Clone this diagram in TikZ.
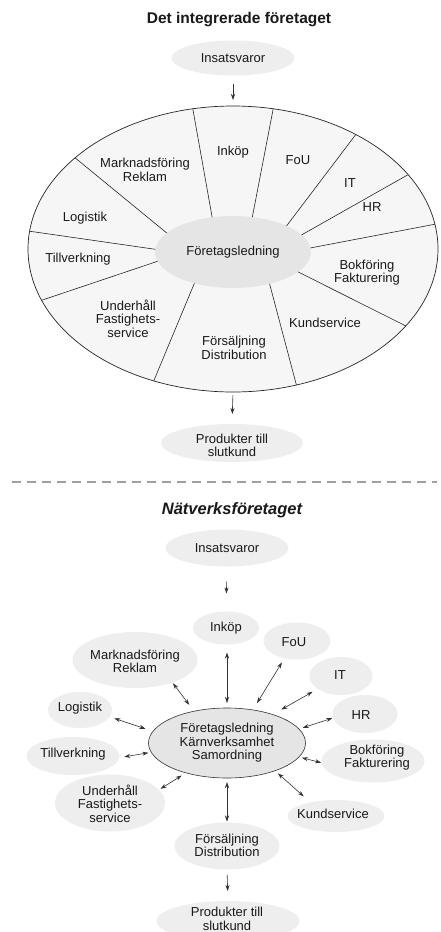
\documentclass[tikz,border=0pt]{standalone}
\usepackage{fontspec}
\setmainfont{Liberation Sans}
\usetikzlibrary{shapes.geometric,arrows.meta}
\begin{document}
\begin{tikzpicture}[x=1pt,y=-1pt,
  every node/.style={font=\fontsize{13}{13.5}\selectfont, align=center, inner sep=0pt, outer sep=0pt, text=black!90},
  blob/.style={ellipse, fill=gray!13},
  arr/.style={-{Stealth[length=6pt,width=4pt]}, line width=0.6pt, draw=black!80},
  darr/.style={{Stealth[length=6pt,width=4pt]}-{Stealth[length=6pt,width=4pt]}, line width=0.6pt, draw=black!80},
  spoke/.style={line width=0.6pt, draw=black!85},
  ttl/.style={font=\fontsize{15.5}{16}\selectfont\bfseries}
]
\useasboundingbox (0,0) rectangle (440,932);
\fill[white] (0,0) rectangle (440,932);

% ---------------- Top: Det integrerade företaget ----------------
\node[ttl] (title1) at (239,20) {Det integrerade företaget};

\node[blob, minimum width=123pt, minimum height=35pt] (ins1) at (233,58) {};
\node (ins1t) at (ins1) {Insatsvaror};

\node[ellipse, draw=black!85, line width=0.7pt, fill=gray!7, minimum width=410pt, minimum height=286pt] (big) at (233,249) {};
\node[ellipse, fill=gray!20, minimum width=156pt, minimum height=72pt] (inner) at (233,252) {};
\node (innert) at (inner) {Företagsledning};

\draw[spoke] (inner.121) -- (big.106);
\draw[spoke] (inner.61.6) -- (big.74.5);
\draw[spoke] (inner.26) -- (big.43.6);
\draw[spoke] (inner.14.8) -- (big.23.9);
\draw[spoke] (inner.3.6) -- (big.7.3);
\draw[spoke] (inner.-17.9) -- (big.-24.6);
\draw[spoke] (inner.-41.7) -- (big.-65.8);
\draw[spoke] (inner.219.5) -- (big.239.8);
\draw[spoke] (inner.187.5) -- (big.195.6);
\draw[spoke] (inner.178.5) -- (big.175.2);
\draw[spoke] (inner.164.4) -- (big.150.6);

\node (s1) at (233,152) {Inköp};
\node (s2) at (298,160) {FoU};
\node (s3) at (350,183) {IT};
\node (s4) at (372,207) {HR};
\node (s5) at (367,272.5) {Bokföring\\Fakturering};
\node (s6) at (325,323) {Kundservice};
\node (s7) at (234,348) {Försäljning\\Distribution};
\node (s8) at (128,318.5) {Underhåll\\Fastighets-\\service};
\node (s9) at (78,259) {Tillverkning};
\node (s10) at (85,218) {Logistik};
\node (s11) at (145,170) {Marknadsföring\\Reklam};

\node[blob, minimum width=142pt, minimum height=38pt] (prod1) at (232,443) {};
\node (prod1t) at (232,445.5) {Produkter till\\slutkund};

\draw[arr, shorten <=8pt, shorten >=6pt] (ins1.south) -- (big.north);
\draw[arr, shorten <=3pt, shorten >=10pt] (big.south) -- (prod1.north);

% ---------------- separator ----------------
\draw[gray!75, line width=1.1pt, dash pattern=on 8.5pt off 6.5pt] (12,482) -- (437,482);

% ---------------- Bottom: Nätverksföretaget ----------------
\node[font=\fontsize{16.5}{17}\selectfont\bfseries\itshape] (title2) at (232,510) {Nätverksföretaget};

\node[blob, minimum width=123pt, minimum height=37pt] (ins2) at (227,548) {};
\node (ins2t) at (ins2) {Insatsvaror};

\node[ellipse, draw=black!80, line width=0.6pt, fill=gray!20, minimum width=157pt, minimum height=70pt] (core) at (227,743) {};
\node (coret) at (227,743) {Företagsledning\\Kärnverksamhet\\Samordning};

\node[blob, minimum width=66pt, minimum height=33pt] (inkop2) at (226,628) {};
\node (inkop2t) at (inkop2) {Inköp};
\node[blob, minimum width=67pt, minimum height=37pt] (fou2) at (297,641) {};
\node (fou2t) at (294,642) {FoU};
\node[blob, minimum width=125pt, minimum height=56pt] (mark2) at (135,660) {};
\node (mark2t) at (135,661.5) {Marknadsföring\\Reklam};
\node[blob, minimum width=63pt, minimum height=38pt] (it2) at (341,676) {};
\node (it2t) at (340,675) {IT};
\node[blob, minimum width=64pt, minimum height=36pt] (log2) at (80,710) {};
\node (log2t) at (80,708) {Logistik};
\node[blob, minimum width=65pt, minimum height=38pt] (hr2) at (365,714) {};
\node (hr2t) at (361,715) {HR};
\node[blob, minimum width=93pt, minimum height=38pt] (till2) at (73,756) {};
\node (till2t) at (73,754) {Tillverkning};
\node[blob, minimum width=103pt, minimum height=43pt] (bok2) at (373,761) {};
\node (bok2t) at (377,757.5) {Bokföring\\Fakturering};
\node[blob, minimum width=110pt, minimum height=57pt] (und2) at (110,803) {};
\node (und2t) at (110,803.5) {Underhåll\\Fastighets-\\service};
\node[blob, minimum width=97pt, minimum height=32pt] (kund2) at (336,816) {};
\node (kund2t) at (333,814) {Kundservice};
\node[blob, minimum width=105pt, minimum height=47pt] (fors2) at (227,846) {};
\node (fors2t) at (227,845.5) {Försäljning\\Distribution};
\node[blob, minimum width=143pt, minimum height=40pt] (prod2) at (228,921) {};
\node (prod2t) at (227,919) {Produkter till\\slutkund};

\draw[arr, shorten <=15pt, shorten >=18pt] (ins2.south) -- (inkop2.north);

\draw[darr, shorten <=5pt, shorten >=8pt] (core.90) -- (core.90 |- inkop2.south);
\draw[darr, shorten <=8pt, shorten >=5pt] (core.52) -- (fou2.234);
\draw[darr, shorten <=10pt, shorten >=6pt] (core.32) -- (it2.209);
\draw[darr, shorten <=4pt, shorten >=1pt] (core.11) -- (hr2.187);
\draw[darr, shorten <=3pt, shorten >=0.5pt] (core.-11) -- (bok2.182);
\draw[darr, shorten <=4pt, shorten >=9pt] (core.-30.5) -- (kund2.152);
\draw[darr, shorten <=4pt, shorten >=1pt] (core.270) -- (core.270 |- fors2.north);
\draw[darr, shorten <=5pt, shorten >=2pt] (core.216) -- (und2.15.6);
\draw[darr, shorten <=3pt, shorten >=5pt] (core.187) -- (till2.-2);
\draw[darr, shorten <=8pt, shorten >=5pt] (core.171) -- (log2.-13);
\draw[darr, shorten <=8pt, shorten >=1pt] (core.136) -- (mark2.-31);
\draw[arr, shorten <=5pt, shorten >=10pt] (fors2.south) -- (prod2.north);
\end{tikzpicture}
\end{document}
